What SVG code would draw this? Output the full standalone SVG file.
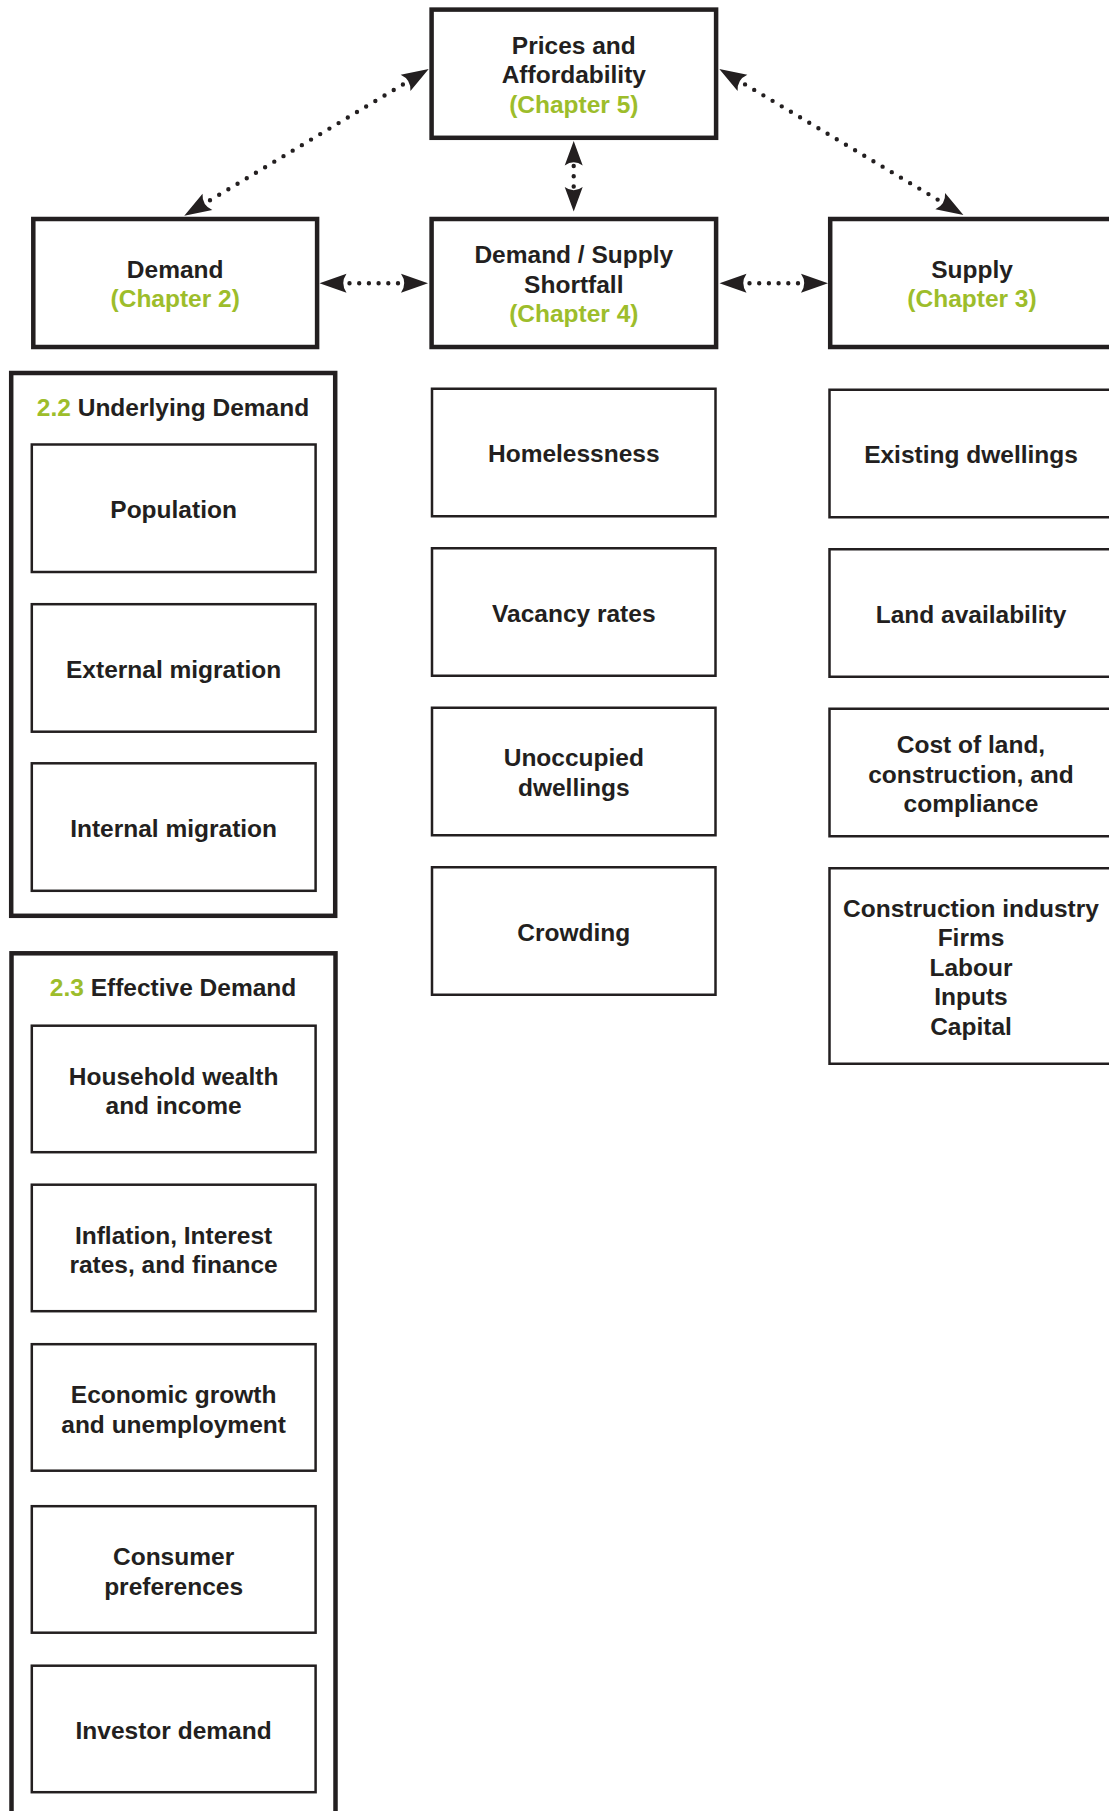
<svg xmlns="http://www.w3.org/2000/svg" width="1109" height="1811" viewBox="0 0 1109 1811">
<style>
  text { font-family: "Liberation Sans", Arial, sans-serif; font-weight: bold; font-size: 24.5px; fill: #231F20; text-anchor: middle; }
  .g { fill: #9DBD2B; }
  .main { fill: #ffffff; stroke: #231F20; stroke-width: 4.5; }
  .cont { fill: none; stroke: #231F20; stroke-width: 4.5; }
  .sub { fill: #ffffff; stroke: #231F20; stroke-width: 2.5; }
  .dots { fill: none; stroke: #231F20; stroke-width: 4.4; stroke-linecap: round; }
  .head { fill: #231F20; stroke: none; }
</style>
<defs>
  <marker id="ah" markerUnits="userSpaceOnUse" orient="auto-start-reverse" markerWidth="40" markerHeight="40" viewBox="-5 -20 40 40" refX="0" refY="0" overflow="visible">
    <path class="head" d="M30,0 L3,-9.5 Q9.5,0 3,9.5 Z"/>
  </marker>
  <marker id="ahv" markerUnits="userSpaceOnUse" orient="auto-start-reverse" markerWidth="40" markerHeight="40" viewBox="-5 -20 40 40" refX="0" refY="0" overflow="visible">
    <path class="head" d="M25,0 L0.5,-9 Q7,0 0.5,9 Z"/>
  </marker>
</defs>
<rect width="1109" height="1811" fill="#ffffff"/>

<g id="prices">
  <rect class="main" x="431.6" y="9.6" width="284.5" height="128.2"/>
  <text x="573.8" y="53.5">Prices and</text>
  <text x="573.8" y="83">Affordability</text>
  <text x="573.8" y="112.5" class="g">(Chapter 5)</text>
</g>
<g id="demand">
  <rect class="main" x="33.3" y="219" width="283.8" height="128"/>
  <text x="175.2" y="277.5">Demand</text>
  <text x="175.2" y="307" class="g">(Chapter 2)</text>
</g>
<g id="shortfall">
  <rect class="main" x="431.6" y="219" width="284.5" height="128"/>
  <text x="573.8" y="263">Demand / Supply</text>
  <text x="573.8" y="292.5">Shortfall</text>
  <text x="573.8" y="322" class="g">(Chapter 4)</text>
</g>
<g id="supply">
  <rect class="main" x="830.2" y="219" width="284" height="128"/>
  <text x="972" y="277.5">Supply</text>
  <text x="972" y="307" class="g">(Chapter 3)</text>
</g>

<g id="underlying-demand">
  <rect class="cont" x="11.2" y="373" width="324" height="542.8"/>
  <text x="173" y="416"><tspan class="g">2.2</tspan> Underlying Demand</text>
</g>
<g id="population">
  <rect class="sub" x="31.8" y="444.5" width="283.8" height="127.5"/>
  <text x="173.6" y="517.7">Population</text>
</g>
<g id="external-migration">
  <rect class="sub" x="31.8" y="604.2" width="283.8" height="127.5"/>
  <text x="173.6" y="677.5">External migration</text>
</g>
<g id="internal-migration">
  <rect class="sub" x="31.8" y="763.3" width="283.8" height="127.5"/>
  <text x="173.6" y="836.5">Internal migration</text>
</g>

<g id="effective-demand">
  <rect class="cont" x="11.5" y="953.3" width="324" height="900"/>
  <text x="173" y="995.5"><tspan class="g">2.3</tspan> Effective Demand</text>
</g>
<g id="household-wealth">
  <rect class="sub" x="31.8" y="1025.7" width="283.8" height="126.5"/>
  <text x="173.6" y="1084.5">Household wealth</text>
  <text x="173.6" y="1114">and income</text>
</g>
<g id="inflation">
  <rect class="sub" x="31.8" y="1184.7" width="283.8" height="126.5"/>
  <text x="173.6" y="1243.5">Inflation, Interest</text>
  <text x="173.6" y="1273">rates, and finance</text>
</g>
<g id="economic-growth">
  <rect class="sub" x="31.8" y="1344.2" width="283.8" height="126.5"/>
  <text x="173.6" y="1403">Economic growth</text>
  <text x="173.6" y="1432.5">and unemployment</text>
</g>
<g id="consumer-preferences">
  <rect class="sub" x="31.8" y="1506.2" width="283.8" height="126.5"/>
  <text x="173.6" y="1565">Consumer</text>
  <text x="173.6" y="1594.5">preferences</text>
</g>
<g id="investor-demand">
  <rect class="sub" x="31.8" y="1665.7" width="283.8" height="126.5"/>
  <text x="173.6" y="1738.5">Investor demand</text>
</g>

<g id="homelessness">
  <rect class="sub" x="432" y="388.75" width="283.5" height="127.5"/>
  <text x="573.8" y="462">Homelessness</text>
</g>
<g id="vacancy-rates">
  <rect class="sub" x="432" y="548.25" width="283.5" height="127.5"/>
  <text x="573.8" y="621.5">Vacancy rates</text>
</g>
<g id="unoccupied-dwellings">
  <rect class="sub" x="432" y="707.75" width="283.5" height="127.5"/>
  <text x="573.8" y="766">Unoccupied</text>
  <text x="573.8" y="795.5">dwellings</text>
</g>
<g id="crowding">
  <rect class="sub" x="432" y="867.25" width="283.5" height="127.5"/>
  <text x="573.8" y="940.5">Crowding</text>
</g>

<g id="existing-dwellings">
  <rect class="sub" x="829.5" y="389.75" width="284" height="127.5"/>
  <text x="971" y="463">Existing dwellings</text>
</g>
<g id="land-availability">
  <rect class="sub" x="829.5" y="549.25" width="284" height="127.5"/>
  <text x="971" y="622.5">Land availability</text>
</g>
<g id="cost-of-land">
  <rect class="sub" x="829.5" y="708.75" width="284" height="127.5"/>
  <text x="971" y="753">Cost of land,</text>
  <text x="971" y="782.5">construction, and</text>
  <text x="971" y="812">compliance</text>
</g>
<g id="construction-industry">
  <rect class="sub" x="829.5" y="868.25" width="284" height="195.5"/>
  <text x="971" y="916.5">Construction industry</text>
  <text x="971" y="946">Firms</text>
  <text x="971" y="975.5">Labour</text>
  <text x="971" y="1005">Inputs</text>
  <text x="971" y="1034.5">Capital</text>
</g>

<g id="connectors">
  <path class="dots" d="M210,200.26 L402.97,84.44" stroke-dasharray="0 10.713" marker-start="url(#ah)" marker-end="url(#ah)"/>
  <path class="dots" d="M745.05,84.4 L937.65,199.6" stroke-dasharray="0 10.685" marker-start="url(#ah)" marker-end="url(#ah)"/>
  <path class="dots" d="M349.5,283.3 L398,283.3" stroke-dasharray="0 9.699" marker-start="url(#ah)" marker-end="url(#ah)"/>
  <path class="dots" d="M749.5,283.3 L798,283.3" stroke-dasharray="0 9.699" marker-start="url(#ah)" marker-end="url(#ah)"/>
  <path class="dots" d="M573.7,166 L573.7,186.5" stroke-dasharray="0 10.249" marker-start="url(#ahv)" marker-end="url(#ahv)"/>
</g>
</svg>
